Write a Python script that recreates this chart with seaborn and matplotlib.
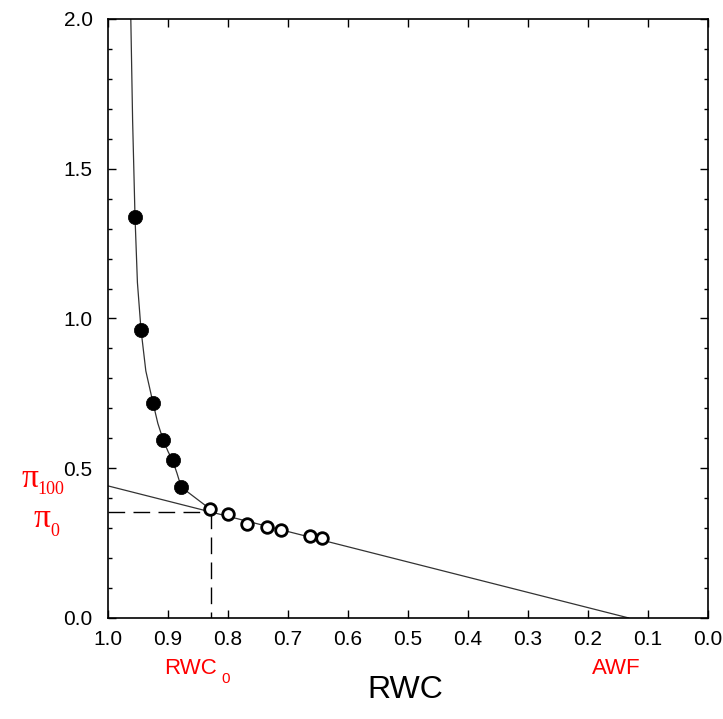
import matplotlib
matplotlib.use("Agg")
import matplotlib.pyplot as plt
import seaborn as sns
import pandas as pd
from matplotlib.ticker import MultipleLocator, FormatStrFormatter

sns.set_theme(style="ticks")
plt.rcParams['font.family'] = ['Liberation Sans', 'DejaVu Sans']
plt.rcParams['text.color'] = 'black'
plt.rcParams['xtick.color'] = 'black'
plt.rcParams['ytick.color'] = 'black'

# Data
rwc_filled = [0.955, 0.945, 0.925, 0.908, 0.892, 0.878]
inv_psi_filled = [1.339, 0.962, 0.718, 0.594, 0.528, 0.437]
rwc_open = [0.830, 0.800, 0.768, 0.735, 0.712, 0.663, 0.643]
inv_psi_open = [0.364, 0.347, 0.314, 0.304, 0.294, 0.274, 0.267]

# Fitted curve (turgid region)
curve_rwc = [0.962, 0.959, 0.955, 0.951, 0.945, 0.937, 0.925, 0.917,
             0.908, 0.900, 0.892, 0.885, 0.878, 0.830]
curve_inv = [2.00, 1.66, 1.339, 1.12, 0.962, 0.825, 0.718, 0.650,
             0.594, 0.556, 0.524, 0.483, 0.437, 0.364]

# Straight line fit (osmotic region)
line_rwc = [1.0, 0.132]
line_inv = [0.441, 0.0]

rwc0 = 0.828
pi0 = 0.354

fig = plt.figure(figsize=(7.23, 7.19), dpi=100)
ax = fig.add_axes([0.1494, 0.1405, 0.8299, 0.8331])

df_f = pd.DataFrame({"RWC": rwc_filled, "inv": inv_psi_filled})
df_o = pd.DataFrame({"RWC": rwc_open, "inv": inv_psi_open})
df_c = pd.DataFrame({"RWC": curve_rwc, "inv": curve_inv})
df_l = pd.DataFrame({"RWC": line_rwc, "inv": line_inv})

sns.lineplot(data=df_c, x="RWC", y="inv", ax=ax, color="#333333", lw=0.9,
             sort=False, estimator=None)
sns.lineplot(data=df_l, x="RWC", y="inv", ax=ax, color="#333333", lw=0.9,
             sort=False, estimator=None)
ax.plot([1.0, rwc0], [pi0, pi0], color="black", lw=1.0, dashes=(12, 6))
ax.plot([rwc0, rwc0], [pi0, 0.0], color="black", lw=1.0, dashes=(12, 6))

sns.scatterplot(data=df_f, x="RWC", y="inv", ax=ax, color="black", s=105,
                edgecolor="black", linewidth=0.5, zorder=5)
sns.scatterplot(data=df_o, x="RWC", y="inv", ax=ax, color="white", s=70,
                edgecolor="black", linewidth=2.0, zorder=5)

ax.set_xlim(1.0, 0.0)
ax.set_ylim(0.0, 2.0)
ax.xaxis.set_major_locator(MultipleLocator(0.1))
ax.yaxis.set_major_locator(MultipleLocator(0.5))
ax.yaxis.set_minor_locator(MultipleLocator(0.1))
ax.xaxis.set_major_formatter(FormatStrFormatter('%.1f'))
ax.yaxis.set_major_formatter(FormatStrFormatter('%.1f'))
ax.tick_params(axis='both', which='major', direction='in', length=6, width=1,
               labelsize=15, top=True, right=True, color='black',
               labelcolor='black')
ax.tick_params(axis='y', which='minor', direction='in', length=3, width=1,
               right=True, left=True, color='black')
ax.tick_params(axis='x', which='major', pad=9)
ax.tick_params(axis='y', which='major', pad=11)
for s in ax.spines.values():
    s.set_color('black')
    s.set_linewidth(1.2)

ax.set_xlabel("")
ax.set_ylabel("")

# axis titles
fig.text(405 / 723, 1 - 690 / 719, "RWC", fontsize=23, ha='center',
         va='center', color='black')
fig.text(-0.014, 1 - 345 / 719, "1/Ψ", fontsize=24, rotation=90,
         ha='center', va='center', color='black')

red = "#ff0000"
# RWC0 and AWF
fig.text(190 / 723, 1 - 668 / 719, "RWC", fontsize=16, color=red,
         ha='center', va='center')
fig.text(225.5 / 723, 1 - 679 / 719, "0", fontsize=11, color=red,
         ha='center', va='center')
fig.text(616 / 723, 1 - 669 / 719, "AWF", fontsize=16, color=red,
         ha='center', va='center')

# pi labels
fig.text(30 / 723, 1 - 479 / 719, "π", fontsize=24, color=red,
         family='Liberation Serif', ha='center', va='center')
fig.text(51 / 723, 1 - 490 / 719, "100", fontsize=13, color=red,
         family='Liberation Serif', ha='center', va='center')
fig.text(42 / 723, 1 - 519 / 719, "π", fontsize=24, color=red,
         family='Liberation Serif', ha='center', va='center')
fig.text(55 / 723, 1 - 532 / 719, "0", fontsize=13, color=red,
         family='Liberation Serif', ha='center', va='center')

fig.savefig("out.png", dpi=100)
